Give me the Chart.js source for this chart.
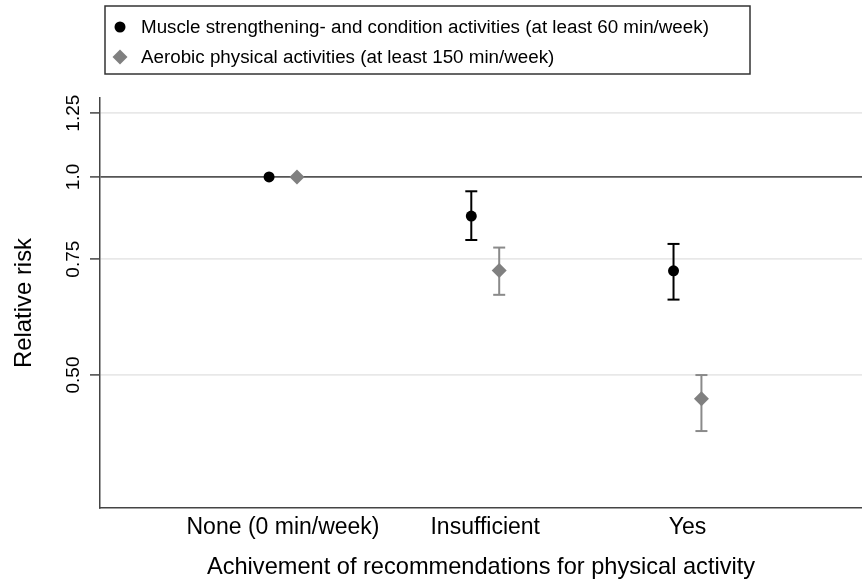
<!DOCTYPE html>
<html>
<head>
<meta charset="utf-8">
<script src="https://cdn.jsdelivr.net/npm/chart.js@4.4.1/dist/chart.umd.min.js"></script>
<style>
  html, body { margin: 0; padding: 0; background: #fff; }
  #wrap { width: 862px; height: 588px; }
</style>
</head>
<body>
<div id="wrap"><canvas id="chart" width="862" height="588"></canvas></div>
<script>
var categories = ["None (0 min/week)", "Insufficient", "Yes"];
var categoryPos = [1, 2, 3];

var muscleLabel = "Muscle strengthening- and condition activities (at least 60 min/week)";
var muscleRR = [1.0, 0.872, 0.720];
var muscleLow = [null, 0.802, 0.651];
var muscleHigh = [null, 0.951, 0.791];

var aerobicLabel = "Aerobic physical activities (at least 150 min/week)";
var aerobicRR = [1.0, 0.721, 0.460];
var aerobicLow = [null, 0.662, 0.411];
var aerobicHigh = [null, 0.781, 0.500];

var yTicks = [0.5, 0.75, 1.0, 1.25];
var yTickLabels = ["0.50", "0.75", "1.0", "1.25"];

var FONT = "'Liberation Sans', Arial, Helvetica, sans-serif";
var MUSCLE_COLOR = "#000000";
var AEROBIC_COLOR = "#808080";
var AEROBIC_BAR = "#8a8a8a";
var SHIFT = 0.069;

function points(values, shift) {
    var out = [];
    for (var i = 0; i < values.length; i++) {
        out.push({ x: categoryPos[i] + shift, y: values[i] });
    }
    return out;
}

// one small line dataset per confidence interval, caps are "line" point styles
function errorBars(low, high, shift, color) {
    var sets = [];
    for (var i = 0; i < low.length; i++) {
        if (low[i] === null) {
            continue;
        }
        sets.push({
            type: "line",
            data: [{ x: categoryPos[i] + shift, y: low[i] }, { x: categoryPos[i] + shift, y: high[i] }],
            borderColor: color,
            borderWidth: 2,
            pointStyle: "line",
            pointRadius: 6,
            pointBorderWidth: 2,
            pointBorderColor: color,
            pointHoverRadius: 6,
            fill: false,
            order: 2
        });
    }
    return sets;
}

var datasets = [
    {
        label: muscleLabel,
        data: points(muscleRR, -SHIFT),
        pointStyle: "circle",
        pointRadius: 5.5,
        pointBackgroundColor: MUSCLE_COLOR,
        pointBorderColor: MUSCLE_COLOR,
        pointBorderWidth: 0,
        order: 0
    },
    {
        label: aerobicLabel,
        data: points(aerobicRR, SHIFT),
        pointStyle: "rectRot",
        pointRadius: 7.5,
        pointBackgroundColor: AEROBIC_COLOR,
        pointBorderColor: AEROBIC_COLOR,
        pointBorderWidth: 0,
        order: 1
    }
].concat(errorBars(muscleLow, muscleHigh, -SHIFT, MUSCLE_COLOR))
 .concat(errorBars(aerobicLow, aerobicHigh, SHIFT, AEROBIC_BAR));

var legendBox = {
    id: "legendBox",
    afterDraw: function(chart) {
        var ctx = chart.ctx;
        ctx.save();
        ctx.fillStyle = "#ffffff";
        ctx.fillRect(105, 6, 645, 68);
        ctx.strokeStyle = "#333333";
        ctx.lineWidth = 1.5;
        ctx.strokeRect(105, 6, 645, 68);
        var items = [
            { text: muscleLabel, style: "circle", r: 5.5, color: MUSCLE_COLOR, y: 27 },
            { text: aerobicLabel, style: "rectRot", r: 7.5, color: AEROBIC_COLOR, y: 57 }
        ];
        ctx.font = "18.8px " + FONT;
        ctx.textBaseline = "middle";
        ctx.textAlign = "left";
        for (var i = 0; i < items.length; i++) {
            var it = items[i];
            ctx.fillStyle = it.color;
            ctx.strokeStyle = it.color;
            Chart.helpers.drawPoint(ctx, { pointStyle: it.style, radius: it.r, borderWidth: 0, rotation: 0 }, 120, it.y);
            ctx.fillStyle = "#000000";
            ctx.fillText(it.text, 141, it.y + 1);
        }
        ctx.restore();
    }
};

Chart.defaults.font.family = FONT;
Chart.defaults.color = "#000000";

new Chart(document.getElementById("chart"), {
    type: "scatter",
    data: { datasets: datasets },
    plugins: [legendBox],
    options: {
        responsive: false,
        animation: false,
        layout: { autoPadding: false, padding: { top: 98, left: 0, right: 0, bottom: 0 } },
        plugins: {
            legend: { display: false },
            tooltip: { enabled: false }
        },
        scales: {
            x: {
                type: "linear",
                bounds: "data",
                min: 0.095,
                max: 3.863,
                afterFit: function(scale) {
                    scale.height = 80;
                    scale.paddingLeft = 0;
                    scale.paddingRight = 0;
                },
                afterBuildTicks: function(scale) {
                    scale.ticks = categoryPos.map(function(v) { return { value: v }; });
                },
                grid: { display: false, drawTicks: false },
                border: { display: true, color: "#444444", width: 1.5 },
                ticks: {
                    padding: 6,
                    font: { size: 23 },
                    color: "#000000",
                    maxRotation: 0,
                    callback: function(value) {
                        var idx = categoryPos.indexOf(value);
                        return idx >= 0 ? categories[idx] : "";
                    }
                },
                title: {
                    display: true,
                    text: "Achivement of recommendations for physical activity",
                    font: { size: 23.6 },
                    color: "#000000",
                    padding: { top: 0, bottom: 6 }
                }
            },
            y: {
                type: "logarithmic",
                bounds: "data",
                min: 0.314,
                max: 1.318,
                afterFit: function(scale) {
                    scale.width = 100;
                    scale.paddingTop = 0;
                    scale.paddingBottom = 0;
                },
                afterBuildTicks: function(scale) {
                    scale.ticks = yTicks.map(function(v) { return { value: v }; });
                },
                grid: {
                    drawTicks: true,
                    tickLength: 10,
                    color: function(c) {
                        return c.tick && c.tick.value === 1 ? "#555555" : "#e8e8e8";
                    },
                    lineWidth: 1.8,
                    tickColor: "#444444",
                    tickWidth: 1.5
                },
                border: { display: true, color: "#444444", width: 1.5 },
                ticks: {
                    padding: -2,
                    font: { size: 19 },
                    color: "#000000",
                    minRotation: 90,
                    maxRotation: 90,
                    crossAlign: "center",
                    callback: function(value) {
                        var idx = yTicks.indexOf(value);
                        return idx >= 0 ? yTickLabels[idx] : "";
                    }
                },
                title: {
                    display: true,
                    text: "Relative risk",
                    font: { size: 23.9 },
                    color: "#000000",
                    padding: { top: 10, bottom: 0 }
                }
            }
        }
    }
});
</script>
</body>
</html>
